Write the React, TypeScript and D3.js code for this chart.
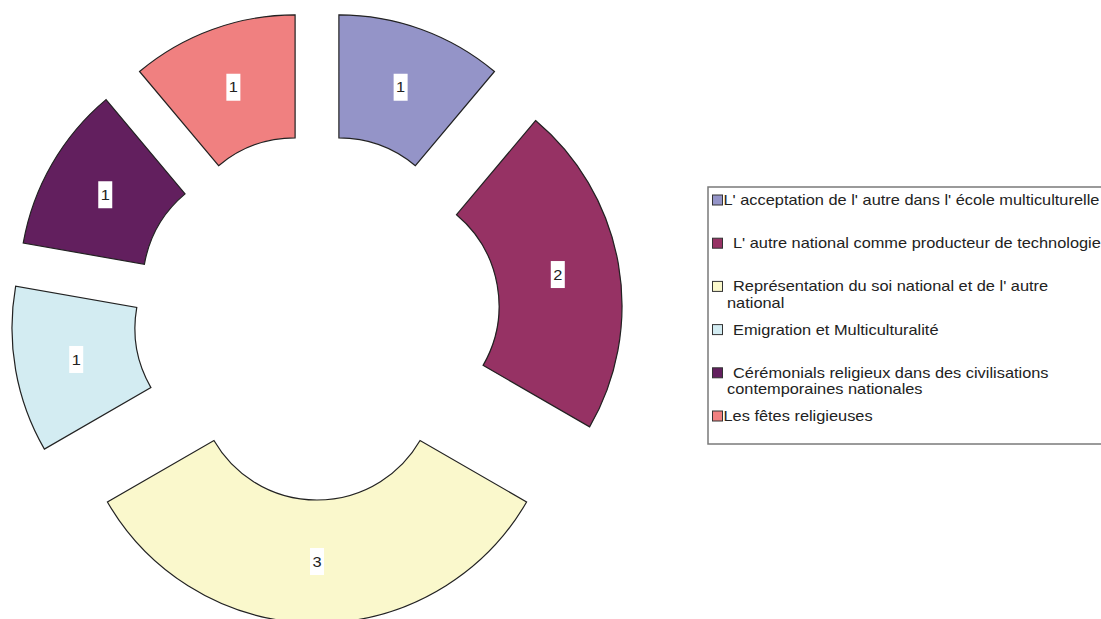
import React from "react";
import * as d3 from "d3";

const categories = [
  "L' acceptation de l' autre dans l' école multiculturelle",
  "L' autre national comme producteur de technologie",
  "Représentation du soi national et de l' autre national",
  "Emigration et Multiculturalité",
  "Cérémonials religieux dans des civilisations contemporaines nationales",
  "Les fêtes religieuses",
];
const values = [1, 2, 3, 1, 1, 1];
const colors = ["#9494C8", "#963264", "#FAF8CC", "#D3ECF2", "#621F5E", "#F08080"];
const legendLines = [
  ["L' acceptation de l' autre dans l' école multiculturelle"],
  ["L' autre national comme producteur de technologie"],
  ["Représentation du soi national et de l' autre", "national"],
  ["Emigration et Multiculturalité"],
  ["Cérémonials religieux dans des civilisations", "contemporaines nationales"],
  ["Les fêtes religieuses"],
];
const legendIndent = [false, true, true, true, true, false];

const FONT = "'Liberation Sans', Arial, Helvetica, sans-serif";

export default function App() {
  const cx = 317;
  const cy = 317;
  const rInner = 119;
  const rOuter = 242;
  const explode = 64;

  const pie = d3
    .pie<number>()
    .sort(null)
    .value((d) => d)
    .startAngle(0)
    .endAngle(2 * Math.PI);
  const arcs = pie(values);
  const arc = d3.arc<d3.PieArcDatum<number>>().innerRadius(rInner).outerRadius(rOuter);

  const legendX = 708;
  const legendY = 187;
  const itemY0 = 200;
  const itemStep = 43.2;
  const sx = 1.17;

  return (
    <svg
      width={1101}
      height={619}
      style={{ position: "absolute", left: 0, top: 0, display: "block" }}
      fontFamily={FONT}
    >
      <rect x={0} y={0} width={1101} height={619} fill="#ffffff" />
      <g transform={`translate(${cx},${cy})`}>
        {arcs.map((a, i) => {
          const mid = (a.startAngle + a.endAngle) / 2;
          const dx = Math.sin(mid) * explode;
          const dy = -Math.cos(mid) * explode;
          const [lx, ly] = arc.centroid(a);
          return (
            <g key={i} transform={`translate(${dx},${dy})`}>
              <path d={arc(a) || ""} fill={colors[i]} stroke="#222" strokeWidth={1.2} />
              <rect x={lx - 7} y={ly - 13.5} width={14} height={27} fill="#ffffff" />
              <text
                transform={`translate(${lx},${ly}) scale(${sx},1)`}
                textAnchor="middle"
                dominantBaseline="central"
                fontSize={14}
                fill="#222"
              >
                {values[i]}
              </text>
            </g>
          );
        })}
      </g>
      <rect
        x={legendX}
        y={legendY}
        width={420}
        height={257}
        fill="#ffffff"
        stroke="#7a7a7a"
        strokeWidth={1.5}
      />
      {legendLines.map((lines, i) => {
        const y = itemY0 + i * itemStep;
        return (
          <g key={i}>
            <rect x={712.5} y={y - 5} width={10} height={10} fill={colors[i]} stroke="#333" strokeWidth={1} />
            {lines.map((ln, j) => {
              const x = j === 0 ? (legendIndent[i] ? 733 : 723.5) : 727;
              return (
                <text
                  key={j}
                  transform={`translate(${x},${y + j * 16.5}) scale(${sx},1)`}
                  dominantBaseline="central"
                  fontSize={14}
                  fill="#222"
                >
                  {ln}
                </text>
              );
            })}
          </g>
        );
      })}
    </svg>
  );
}
